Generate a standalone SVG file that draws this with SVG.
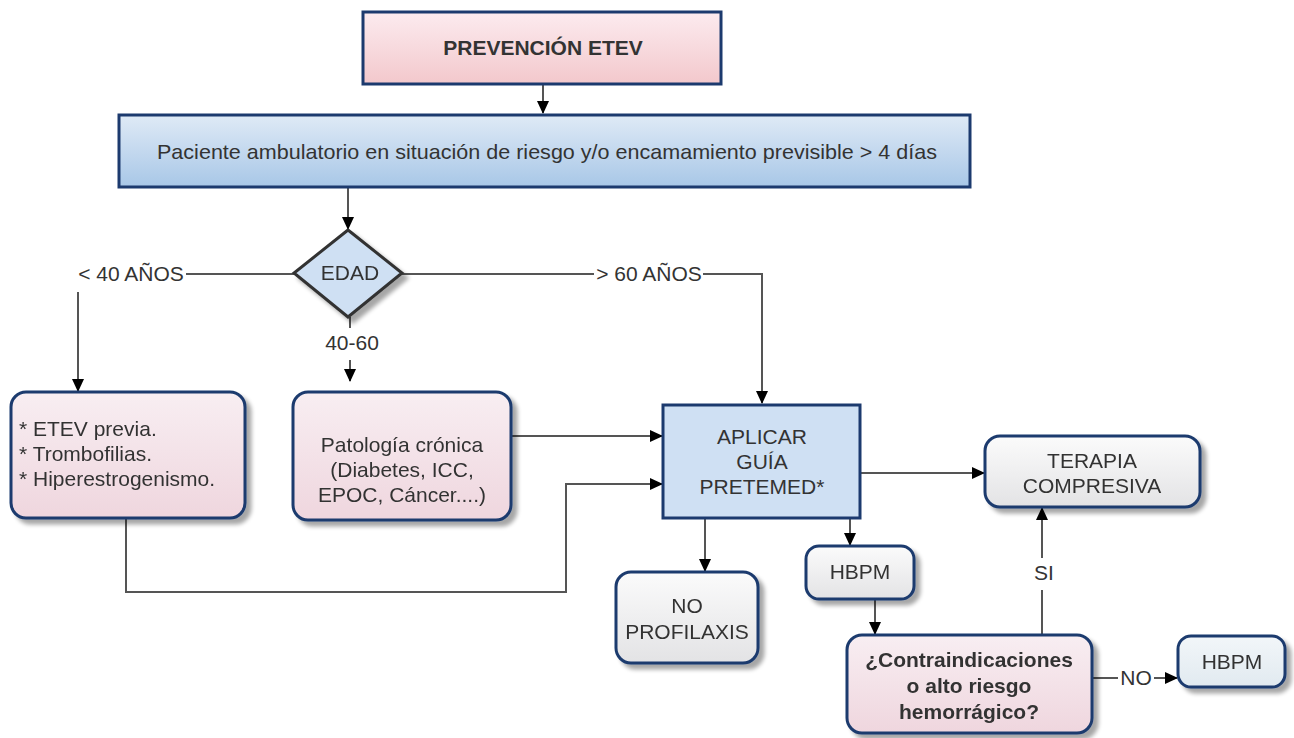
<svg xmlns="http://www.w3.org/2000/svg" width="1294" height="738" viewBox="0 0 1294 738">
<style>
text{font-family:"Liberation Sans",Arial,sans-serif;font-size:21px;fill:#333;text-anchor:middle}
.b{font-weight:bold}
.l{text-anchor:start}
.box{stroke:#1c3a6e;stroke-width:3}
.c{fill:none;stroke:#555;stroke-width:2}
</style>
<defs>
<linearGradient id="gPink" x1="0" y1="0" x2="0" y2="1"><stop offset="0" stop-color="#fcebef"/><stop offset="1" stop-color="#f3c8cc"/></linearGradient>
<linearGradient id="gPink2" x1="0" y1="0" x2="0" y2="1"><stop offset="0" stop-color="#f8eef2"/><stop offset="1" stop-color="#efd6de"/></linearGradient>
<linearGradient id="gBlue" x1="0" y1="0" x2="0" y2="1"><stop offset="0" stop-color="#dfeaf6"/><stop offset="1" stop-color="#a8c7e7"/></linearGradient>
<linearGradient id="gGray" x1="0" y1="0" x2="0" y2="1"><stop offset="0" stop-color="#fbfbfb"/><stop offset="1" stop-color="#e3e3e5"/></linearGradient>
<linearGradient id="gBG" x1="0" y1="0" x2="0" y2="1"><stop offset="0" stop-color="#f2f6f9"/><stop offset="1" stop-color="#e1eaf0"/></linearGradient>
<filter id="sh" x="-10%" y="-10%" width="130%" height="140%">
<feGaussianBlur in="SourceAlpha" stdDeviation="2"/><feOffset dx="5" dy="5"/>
<feComponentTransfer><feFuncA type="linear" slope="0.35"/></feComponentTransfer>
<feMerge><feMergeNode/><feMergeNode in="SourceGraphic"/></feMerge></filter>
<marker id="ar" markerWidth="14" markerHeight="14" refX="12" refY="7" orient="auto" markerUnits="userSpaceOnUse"><path d="M0,1 L13,7 L0,13 Z" fill="#000"/></marker>
</defs>

<g id="connectors">
<path class="c" d="M543,84 V113" marker-end="url(#ar)"/>
<path class="c" d="M348,187 V229" marker-end="url(#ar)"/>
<path class="c" d="M294,274 H186"/>
<path class="c" d="M78,292 V391" marker-end="url(#ar)"/>
<path class="c" d="M402,274 H594"/>
<path class="c" d="M703,274 H762 V403" marker-end="url(#ar)"/>
<path class="c" d="M350,317 V328"/>
<path class="c" d="M350,360 V381" marker-end="url(#ar)"/>
<path class="c" d="M511,436 H662" marker-end="url(#ar)"/>
<path class="c" d="M126,518 V592 H566 V484 H662" marker-end="url(#ar)"/>
<path class="c" d="M860,473 H984" marker-end="url(#ar)"/>
<path class="c" d="M705,518 V571" marker-end="url(#ar)"/>
<path class="c" d="M850,518 V545" marker-end="url(#ar)"/>
<path class="c" d="M875,600 V634" marker-end="url(#ar)"/>
<path class="c" d="M1042,634 V590"/>
<path class="c" d="M1042,558 V508" marker-end="url(#ar)"/>
<path class="c" d="M1092,678 H1118"/>
<path class="c" d="M1154,678 H1177" marker-end="url(#ar)"/>
<text x="131" y="281">&lt; 40 AÑOS</text>
<text x="649" y="281">&gt; 60 AÑOS</text>
<text x="352" y="350">40-60</text>
<text x="1044" y="580">SI</text>
<text x="1136" y="685">NO</text>
</g>

<g id="n-prevencion"><rect class="box" x="363" y="12" width="358" height="72" fill="url(#gPink)"/><text class="b" x="543" y="55">PREVENCIÓN ETEV</text></g>
<g id="n-paciente"><rect class="box" x="119" y="115" width="851" height="72" fill="url(#gBlue)"/><text x="547" y="159" textLength="780" lengthAdjust="spacingAndGlyphs">Paciente ambulatorio en situación de riesgo y/o encamamiento previsible &gt; 4 días</text></g>
<g id="n-edad" filter="url(#sh)"><path d="M348,230 L402,273 L348,317 L294,273 Z" fill="#cfe0f3" stroke="#333" stroke-width="3"/><text x="350" y="280">EDAD</text></g>
<g id="n-riesgos" filter="url(#sh)"><rect class="box" x="11" y="392" width="234" height="126" rx="15" fill="url(#gPink2)"/>
<text class="l" x="19" y="436">* ETEV previa.</text><text class="l" x="19" y="461">* Trombofilias.</text><text class="l" x="19" y="486">* Hiperestrogenismo.</text></g>
<g id="n-patologia" filter="url(#sh)"><rect class="box" x="293" y="392" width="218" height="128" rx="15" fill="url(#gPink2)"/>
<text x="402" y="452">Patología crónica</text><text x="402" y="477">(Diabetes, ICC,</text><text x="402" y="502">EPOC, Cáncer....)</text></g>
<g id="n-aplicar"><rect class="box" x="663" y="405" width="197" height="113" fill="#cfe0f3"/>
<text x="762" y="444">APLICAR</text><text x="762" y="469">GUÍA</text><text x="762" y="494">PRETEMED*</text></g>
<g id="n-terapia" filter="url(#sh)"><rect class="box" x="985" y="436" width="215" height="71" rx="15" fill="url(#gGray)"/>
<text x="1092" y="468">TERAPIA</text><text x="1092" y="493">COMPRESIVA</text></g>
<g id="n-noprof" filter="url(#sh)"><rect class="box" x="616" y="572" width="142" height="91" rx="15" fill="url(#gGray)"/>
<text x="687" y="613">NO</text><text x="687" y="639">PROFILAXIS</text></g>
<g id="n-hbpm1" filter="url(#sh)"><rect class="box" x="806" y="546" width="108" height="53" rx="13" fill="url(#gGray)"/><text x="860" y="579">HBPM</text></g>
<g id="n-contra" filter="url(#sh)"><rect class="box" x="847" y="635" width="245" height="98" rx="15" fill="url(#gPink2)"/>
<text class="b" x="969" y="667">¿Contraindicaciones</text><text class="b" x="969" y="693">o alto riesgo</text><text class="b" x="969" y="719">hemorrágico?</text></g>
<g id="n-hbpm2" filter="url(#sh)"><rect class="box" x="1178" y="636" width="107" height="51" rx="13" fill="url(#gBG)"/><text x="1232" y="669">HBPM</text></g>
</svg>
